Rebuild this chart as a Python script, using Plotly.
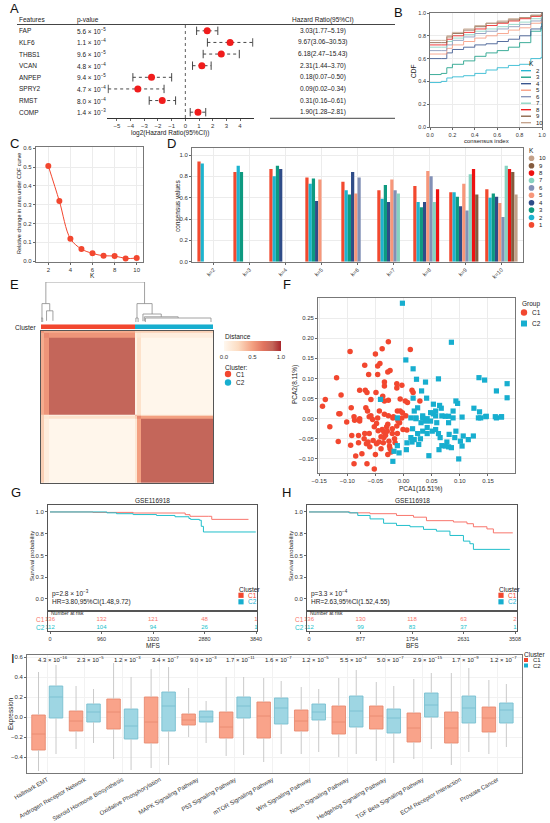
import numpy as np
import plotly.graph_objects as go

W, H = 550, 823
FONT = "Liberation Sans"
C1_COL, C2_COL = "#F2472F", "#17AECF"
KM1, KM2 = "#F8766D", "#21BFCB"
NPG = ["#F2492F", "#1DB4CF", "#0E9A80", "#2F4C88", "#F7977A",
       "#8290B6", "#86D2C0", "#EE1111", "#845B3E", "#C2A088"]

# A: univariate cox
features = ["FAP", "KLF6", "THBS1", "VCAN", "ANPEP", "SPRY2", "RMST", "COMP"]
pval_a = ["5.6 × 10<sup>−5</sup>", "1.1 × 10<sup>−4</sup>", "9.6 × 10<sup>−5</sup>", "4.8 × 10<sup>−4</sup>",
          "9.4 × 10<sup>−5</sup>", "4.7 × 10<sup>−4</sup>", "8.0 × 10<sup>−4</sup>", "1.4 × 10<sup>−3</sup>"]
hr = [3.03, 9.67, 6.18, 2.31, 0.18, 0.09, 0.31, 1.90]
hr_low = [1.77, 3.06, 2.47, 1.44, 0.07, 0.02, 0.16, 1.28]
hr_high = [5.19, 30.53, 15.43, 3.70, 0.50, 0.34, 0.61, 2.81]

# B: consensus CDF
cdf_index = [0, 0.1, 0.15, 0.2, 0.3, 0.4, 0.5, 0.6, 0.7, 0.8, 0.9, 0.99, 1.0]
cdf_k = [2, 3, 4, 5, 6, 7, 8, 9, 10]
cdf_curves = [
    [0.39, 0.40, 0.43, 0.44, 0.45, 0.47, 0.50, 0.52, 0.54, 0.55, 0.60, 0.61, 1.0],
    [0.46, 0.47, 0.52, 0.55, 0.58, 0.62, 0.65, 0.67, 0.70, 0.74, 0.84, 0.86, 1.0],
    [0.60, 0.60, 0.65, 0.68, 0.70, 0.72, 0.73, 0.75, 0.77, 0.80, 0.86, 0.88, 1.0],
    [0.64, 0.64, 0.69, 0.72, 0.75, 0.78, 0.80, 0.82, 0.85, 0.87, 0.91, 0.92, 1.0],
    [0.67, 0.67, 0.72, 0.76, 0.79, 0.82, 0.84, 0.86, 0.88, 0.90, 0.93, 0.94, 1.0],
    [0.70, 0.70, 0.75, 0.78, 0.81, 0.84, 0.86, 0.88, 0.90, 0.92, 0.95, 0.96, 1.0],
    [0.72, 0.72, 0.77, 0.80, 0.83, 0.86, 0.89, 0.91, 0.93, 0.95, 0.97, 0.98, 1.0],
    [0.74, 0.74, 0.79, 0.82, 0.85, 0.88, 0.91, 0.92, 0.94, 0.96, 0.98, 0.98, 1.0],
    [0.76, 0.76, 0.80, 0.83, 0.86, 0.89, 0.91, 0.93, 0.95, 0.96, 0.98, 0.99, 1.0],
]

# C: delta area
k_axis = [2, 3, 4, 5, 6, 7, 8, 9, 10]
delta_auc = [0.506, 0.319, 0.119, 0.064, 0.041, 0.028, 0.027, 0.014, 0.016]

# D: cluster consensus
k_groups = [2, 3, 4, 5, 6, 7, 8, 9, 10]
consensus = [
    [0.94, 0.92],
    [0.84, 0.90, 0.84],
    [0.87, 0.80, 0.90, 0.87],
    [0.79, 0.73, 0.78, 0.57, 0.77],
    [0.75, 0.67, 0.63, 0.84, 0.64, 0.79],
    [0.67, 0.59, 0.72, 0.56, 0.77, 0.67, 0.64],
    [0.71, 0.56, 0.51, 0.56, 0.85, 0.80, 0.56, 0.68],
    [0.65, 0.65, 0.61, 0.52, 0.73, 0.48, 0.82, 0.87, 0.63],
    [0.68, 0.60, 0.64, 0.61, 0.55, 0.42, 0.90, 0.87, 0.84, 0.63],
]

# E: consensus matrix (sample blocks)
seg_sizes = [4, 8, 124, 3, 5, 104]
seg_cluster = [1, 1, 1, 2, 2, 2]
seg_consensus = [
    [0.55, 0.45, 0.45, 0.30, 0.30, 0.30],
    [0.45, 0.60, 0.55, 0.10, 0.15, 0.10],
    [0.45, 0.55, 0.85, 0.05, 0.20, 0.02],
    [0.30, 0.10, 0.05, 0.40, 0.30, 0.15],
    [0.30, 0.15, 0.20, 0.30, 0.60, 0.50],
    [0.30, 0.10, 0.02, 0.15, 0.50, 0.85],
]
# (left, right, height, left child height, right child height)
dendro_links = [
    (7.0, 149.3, 1.0, 0.46, 0.46),
    (1.4, 12.6, 0.46, 0.10, 0.28),
    (8.0, 17.2, 0.28, 0.03, 0.03),
    (0.4, 2.4, 0.10, 0.0, 0.0),
    (138.4, 160.2, 0.46, 0.10, 0.20),
    (136.8, 140.0, 0.10, 0.0, 0.0),
    (147.0, 173.4, 0.20, 0.02, 0.13),
    (149.0, 197.8, 0.13, 0.02, 0.10),
    (150.5, 245.1, 0.10, 0.0, 0.0),
]

# F: PCA
pca_c1_x = [-0.144, -0.139, -0.119, -0.111, -0.095, -0.115, -0.093, -0.087, -0.078, -0.069, -0.068, -0.065,
            -0.062, -0.058, -0.067, -0.064, -0.078, -0.061, -0.050, -0.046, -0.042, -0.038, -0.046, -0.027,
            -0.028, -0.024, -0.034, -0.034, -0.037, -0.034, -0.049, -0.043, -0.034, -0.027, -0.027, -0.012,
            -0.003, -0.012, -0.006, 0.003, 0.007, -0.011, -0.006, -0.002, 0.004, 0.012, 0.015, 0.017, 0.029,
            -0.019, -0.046, -0.055, -0.131, -0.116, -0.113, -0.094, -0.092, -0.085, -0.088, -0.080, -0.074,
            -0.078, -0.069, -0.066, -0.065, -0.063, -0.061, -0.058, -0.054, -0.052, -0.050, -0.048, -0.048,
            -0.044, -0.038, -0.035, -0.035, -0.032, -0.029, -0.028, -0.026, -0.025, -0.024, -0.020, -0.016,
            -0.015, -0.012, -0.011, -0.007, -0.003, -0.001, -0.022, -0.028, -0.040, -0.018, 0.006, -0.088,
            -0.101, -0.040, -0.030, -0.045, -0.020, -0.036, -0.010, -0.052, -0.060, -0.070, -0.080]
pca_c1_y = [0.031, 0.048, 0.102, 0.059, 0.167, 0.012, 0.027, -0.004, 0.071, 0.133, 0.071, 0.065,
            0.110, 0.048, 0.027, 0.019, 0.000, 0.005, 0.161, 0.131, 0.137, 0.174, 0.110, 0.191,
            0.116, 0.120, 0.091, 0.081, 0.056, 0.044, 0.065, 0.019, 0.011, 0.007, 0.046, 0.087,
            0.083, 0.076, 0.049, 0.044, 0.040, 0.019, 0.019, 0.015, 0.007, 0.172, 0.071, 0.065, 0.044,
            0.002, 0.002, -0.002, -0.020, -0.057, 0.012, -0.066, -0.042, -0.093, -0.112, -0.042, -0.087,
            -0.006, -0.037, -0.062, -0.112, -0.058, -0.037, 0.007, -0.054, -0.125, -0.089, -0.012, -0.062,
            -0.058, -0.027, -0.033, -0.047, -0.041, -0.031, -0.014, -0.056, -0.068, -0.075, -0.037, -0.050,
            -0.060, -0.018, -0.037, -0.010, 0.002, -0.027, -0.083, -0.089, -0.075, 0.005, -0.028, 0.005,
            -0.008, -0.045, -0.020, -0.030, -0.025, -0.060, -0.005, -0.020, -0.070, -0.050, -0.060]
pca_c2_x = [-0.002, 0.085, 0.004, 0.017, 0.023, 0.062, 0.039, 0.032, -0.041, 0.017, 0.041, 0.025,
            0.053, 0.064, 0.067, 0.093, 0.096, 0.053, 0.088, 0.074, 0.080, 0.104, 0.134, 0.144, 0.125,
            0.135, 0.137, 0.147, 0.165, 0.184, 0.184, 0.165, 0.174, -0.011, 0.013, 0.022, 0.034, 0.042,
            0.048, 0.019, 0.022, 0.034, 0.039, 0.031, 0.042, 0.034, 0.025, 0.016, 0.013, 0.015, 0.019,
            0.005, -0.008, -0.017, -0.019, -0.011, 0.006, 0.027, 0.030, 0.042, 0.045, 0.051, 0.057, 0.059,
            0.062, 0.065, 0.063, 0.068, 0.074, 0.080, 0.085, 0.077, 0.081, 0.080, 0.088, 0.091, 0.093,
            0.098, 0.101, 0.104, 0.106, 0.115, 0.124, 0.133, 0.146, 0.163, 0.174, 0.057, 0.068, 0.048, 0.057]
pca_c2_y = [0.287, 0.190, 0.146, 0.124, 0.098, 0.099, 0.091, 0.069, 0.048, 0.051, 0.051, 0.027,
            0.036, 0.033, 0.026, 0.044, 0.038, 0.012, 0.019, 0.006, 0.006, 0.004, 0.102, 0.096, 0.026,
            0.017, 0.002, 0.006, 0.069, 0.087, 0.052, 0.002, 0.004, 0.002, 0.002, 0.000, 0.002, 0.000,
            -0.006, 0.019, 0.002, 0.007, -0.006, -0.010, -0.022, -0.031, -0.037, -0.025, -0.047, -0.058, -0.052,
            -0.077, -0.085, -0.081, -0.106, -0.067, -0.060, -0.064, -0.050, -0.037, -0.092, -0.031, -0.027, -0.010,
            -0.037, -0.047, -0.077, -0.067, -0.068, -0.070, -0.072, -0.058, -0.039, -0.010, 0.002, -0.047, -0.031,
            -0.100, -0.056, -0.068, -0.043, -0.052, -0.043, 0.002, 0.005, 0.005, 0.005, 0.007, 0.007, 0.015, 0.019]

# G: MFS survival
g_c1_t = [0, 800, 1550, 2520, 2610, 2950, 3015, 3700]
g_c1_s = [1.0, 0.995, 0.988, 0.969, 0.95, 0.95, 0.915, 0.915]
g_c2_t = [0, 1060, 1240, 1550, 1985, 2330, 2590, 2620, 2785, 2820, 2860, 3836]
g_c2_s = [1.0, 0.99, 0.98, 0.97, 0.96, 0.945, 0.925, 0.915, 0.905, 0.835, 0.77, 0.77]
g_risk_t = [0, 960, 1920, 2880, 3840]
g_risk_c1 = [136, 132, 121, 48, 1]
g_risk_c2 = [112, 104, 94, 26, 1]

# H: BFS survival
h_c1_t = [0, 700, 1040, 1490, 1780, 2000, 2460, 2690, 2800, 3030, 3140, 3470]
h_c1_s = [1.0, 0.99, 0.98, 0.96, 0.94, 0.90, 0.885, 0.865, 0.83, 0.805, 0.76, 0.76]
h_c2_t = [0, 680, 830, 1040, 1270, 1490, 1720, 1950, 2170, 2400, 2630, 2740, 2800, 3420]
h_c2_s = [1.0, 0.99, 0.96, 0.92, 0.87, 0.845, 0.83, 0.80, 0.78, 0.73, 0.665, 0.635, 0.57, 0.57]
h_risk_t = [0, 877, 1754, 2631, 3508]
h_risk_c1 = [136, 130, 118, 63, 2]
h_risk_c2 = [112, 99, 83, 37, 1]

# I: pathway scores
pathways = ["Hallmark EMT", "Androgen Receptor Network", "Steroid Hormone Biosynthesis",
            "Oxidative Phosphorylation", "MAPK Signaling Pathway", "P53 Signaling Pathway",
            "mTOR Signaling Pathway", "Wnt Signaling Pathway", "Notch Signaling Pathway",
            "Hedgehog Signaling Pathway", "TGF Beta Signaling Pathway", "ECM Receptor Interaction",
            "Prostate Cancer"]
pval_i = ["4.3 × 10<sup>−16</sup>", "2.3 × 10<sup>−5</sup>", "1.2 × 10<sup>−3</sup>", "3.4 × 10<sup>−7</sup>",
          "9.0 × 10<sup>−3</sup>", "1.7 × 10<sup>−11</sup>", "1.6 × 10<sup>−7</sup>", "1.2 × 10<sup>−5</sup>",
          "5.5 × 10<sup>−4</sup>", "5.0 × 10<sup>−7</sup>", "2.9 × 10<sup>−15</sup>", "1.7 × 10<sup>−9</sup>",
          "1.2 × 10<sup>−7</sup>"]
c1_low = [-0.54, -0.32, -0.42, -0.51, -0.20, -0.39, -0.45, -0.37, -0.40, -0.44, -0.42, -0.48, -0.37]
c1_q1 = [-0.33, -0.14, -0.12, -0.26, -0.08, -0.21, -0.21, -0.14, -0.17, -0.12, -0.25, -0.26, -0.15]
c1_med = [-0.17, -0.04, 0.05, -0.05, -0.03, -0.10, 0.01, -0.04, -0.05, 0.01, -0.11, -0.11, -0.01]
c1_q3 = [0.02, 0.06, 0.18, 0.20, 0.03, 0.05, 0.15, 0.07, 0.11, 0.11, 0.04, 0.05, 0.10]
c1_high = [0.45, 0.31, 0.54, 0.48, 0.29, 0.40, 0.39, 0.30, 0.39, 0.35, 0.38, 0.44, 0.37]
c2_low = [-0.37, -0.26, -0.53, -0.48, -0.26, -0.38, -0.37, -0.35, -0.37, -0.46, -0.32, -0.35, -0.30]
c2_q1 = [-0.01, -0.05, -0.22, -0.14, -0.05, -0.01, -0.07, -0.03, -0.10, -0.16, 0.00, -0.06, -0.06]
c2_med = [0.20, 0.05, -0.09, 0.11, 0.00, 0.11, 0.09, 0.05, 0.06, -0.01, 0.12, 0.09, 0.07]
c2_q3 = [0.31, 0.13, 0.08, 0.25, 0.06, 0.20, 0.19, 0.13, 0.21, 0.08, 0.24, 0.21, 0.14]
c2_high = [0.52, 0.28, 0.40, 0.50, 0.16, 0.40, 0.36, 0.28, 0.47, 0.31, 0.44, 0.49, 0.33]


traces, shapes, ann = [], [], []
layout = dict(width=W, height=H, autosize=False, margin=dict(l=0, r=0, t=0, b=0),
              paper_bgcolor="white", plot_bgcolor="white", showlegend=False,
              font=dict(family=FONT, size=6, color="#222"),
              barmode="group", bargap=0.1, bargroupgap=0, boxmode="overlay")


def note(px, py, text, size=6, anchor="left", color="#222", angle=0):
    ann.append(dict(x=px / W, y=1 - py / H, xref="paper", yref="paper", text=text, showarrow=False,
                    xanchor=anchor, yanchor="middle", textangle=angle,
                    font=dict(family=FONT, size=size, color=color)))


def hline(x0, x1, py, width=0.8, color="#444"):
    shapes.append(dict(type="line", xref="paper", yref="paper", x0=x0 / W, x1=x1 / W,
                       y0=1 - py / H, y1=1 - py / H, line=dict(color=color, width=width)))


def key_line(px, py, color, label):
    hline(px - 5, px + 5, py, width=1.3, color=color)
    note(px + 8, py, label)


def key_mark(px, py, color, label, r=3.0, kind="circle", size=6, tcolor="#222"):
    shapes.append(dict(type=kind, xref="paper", yref="paper", x0=(px - r) / W, x1=(px + r) / W,
                       y0=1 - (py + r) / H, y1=1 - (py - r) / H, fillcolor=color, line=dict(width=0)))
    note(px + r + 2.5, py, label, size=size, color=tcolor)


def frame(**kw):
    d = dict(showline=True, mirror=True, linecolor="#777", linewidth=0.8, ticks="outside", ticklen=2,
             tickwidth=0.6, tickcolor="#666", tickfont=dict(size=6, color="#333"), showgrid=True,
             gridcolor="#ECECEC", gridwidth=0.6, zeroline=False, automargin=False)
    d.update(kw)
    return d


def axes(n, xd, yd, xkw, ykw):
    xk, yk = ("xaxis", "yaxis") if n == 1 else (f"xaxis{n}", f"yaxis{n}")
    xr, yr = ("x", "y") if n == 1 else (f"x{n}", f"y{n}")
    layout[xk] = dict(domain=[xd[0] / W, xd[1] / W], anchor=yr, **xkw)
    layout[yk] = dict(domain=[1 - yd[1] / H, 1 - yd[0] / H], anchor=xr, **ykw)
    return xr, yr


# ---------- A ----------
xa, ya = axes(1, (107.4, 253.7), (25, 118),
              frame(range=[-5.7, 5.0], tickvals=list(range(-5, 5)), mirror=False, showgrid=False,
                    linecolor="#333"),
              dict(range=[0.5, 8.5], visible=False))
rows = list(range(len(features), 0, -1))
lg, lg_lo, lg_hi = np.log2(hr), np.log2(hr_low), np.log2(hr_high)
ex, ey = [], []
for r, a, b in zip(rows, lg_lo, lg_hi):
    ex += [a, b, None]
    ey += [r, r, None]
traces.append(go.Scatter(x=ex, y=ey, mode="lines", line=dict(color="#333", width=0.9, dash="dot"),
                         xaxis=xa, yaxis=ya))
traces.append(go.Scatter(x=list(lg_lo) + list(lg_hi), y=rows + rows, mode="markers",
                         marker=dict(symbol="line-ns", size=6, line=dict(color="#333", width=0.9)),
                         xaxis=xa, yaxis=ya))
traces.append(go.Scatter(x=lg, y=rows, mode="markers", marker=dict(color="#F01C1C", size=7),
                         xaxis=xa, yaxis=ya))
shapes.append(dict(type="line", xref=xa, yref="paper", x0=0, x1=0, y0=1 - 118 / H, y1=1 - 25 / H,
                   line=dict(color="#333", width=0.8, dash="dot")))
for r, f, p, h_, lo, hi in zip(rows, features, pval_a, hr, hr_low, hr_high):
    for px, txt, anc in [(17, f, "left"), (75, p, "left"), (323, f"{h_:.2f}({lo:.2f}–{hi:.2f})", "center")]:
        ann.append(dict(x=px / W, xref="paper", y=r, yref=ya, text=txt, showarrow=False, xanchor=anc,
                        font=dict(size=6.5, color="#222")))
note(17, 19.5, "Features", 6.5)
note(75, 19.5, "p-value", 6.5)
note(323, 19.5, "Hazard Ratio(95%CI)", 6.5, anchor="center")
hline(17, 395, 24.5, width=1.2)
hline(270, 395, 118.3, width=1.0)
note(170, 133, "log2(Hazard Ratio(95%CI))", 6.5, anchor="center")

# ---------- B ----------
xb, yb = axes(2, (430, 542), (13, 127),
              frame(range=[0, 1], dtick=0.2, tickformat=".1f", tickfont=dict(size=5.5, color="#333")),
              frame(range=[0, 1], dtick=0.2, tickformat=".1f", tickfont=dict(size=5.5, color="#333")))
for k, vals in zip(cdf_k, cdf_curves):
    traces.append(go.Scatter(x=cdf_index, y=vals, mode="lines", opacity=0.8,
                             line=dict(color=NPG[k - 1], width=1, shape="hv"), xaxis=xb, yaxis=yb))
note(413, 72, "CDF", 6.5, anchor="center", angle=-90)
note(486, 140.5, "consensus index", 6, anchor="center")
note(527, 63, "K", 6.5)
for i, k in enumerate(cdf_k):
    key_line(526, 70.7 + 6.5 * i, NPG[k - 1], str(k))

# ---------- C ----------
xc, yc = axes(3, (35.7, 143), (147.3, 262),
              frame(range=[0.86, 10.57], tickvals=[2, 4, 6, 8, 10]),
              frame(range=[-0.005, 0.605], dtick=0.1, tickformat=".1f"))
traces.append(go.Scatter(x=k_axis, y=delta_auc, mode="lines+markers",
                         line=dict(color=C1_COL, width=1, shape="spline"),
                         marker=dict(color=C1_COL, size=6), xaxis=xc, yaxis=yc))
note(19, 204, "Relative change in area under CDF curve", 5.5, anchor="center", angle=-90)
note(92, 275, "K", 6.5, anchor="center")

# ---------- D ----------
k_labels = [f"k={k}" for k in k_groups]
xd_, yd_ = axes(4, (192, 523), (148.3, 261.7),
                frame(type="category", categoryorder="array", categoryarray=k_labels,
                      range=[-0.6, 8.6], tickangle=-45, tickfont=dict(size=5.5, color="#333")),
                frame(range=[0, 1.063], dtick=0.2, tickformat=".1f"))
for c in range(1, 11):
    ks = [k for k in k_groups if k >= max(c, 2)]
    traces.append(go.Bar(x=[f"k={k}" for k in ks], y=[consensus[k - 2][c - 1] for k in ks],
                         marker=dict(color=NPG[c - 1], line=dict(width=0)), offsetgroup=str(c),
                         xaxis=xd_, yaxis=yd_))
note(177, 206, "consensus values", 6.5, anchor="center", angle=-90)
note(527, 150, "K", 6.5)
for i, c in enumerate(range(10, 0, -1)):
    key_mark(531.5, 158.3 + 7.4 * i, NPG[c - 1], str(c), r=2.8)

# ---------- E ----------
edges = np.concatenate([[0], np.cumsum(seg_sizes)])
n_tot = float(edges[-1])
xe1, ye1 = axes(5, (41, 213), (282, 322), dict(range=[0, n_tot], visible=False),
                dict(range=[0, 1.0], visible=False))
dxs, dys = [], []
for xl, xr_, h_, hl, hr_ in dendro_links:
    dxs += [xl, xl, xr_, xr_, None]
    dys += [hl, h_, h_, hr_, None]
traces.append(go.Scatter(x=dxs, y=dys, mode="lines", line=dict(color="#8A8A8A", width=0.8),
                         xaxis=xe1, yaxis=ye1))
xe2, ye2 = axes(6, (41, 213), (324.3, 329), dict(range=[0, n_tot], visible=False),
                dict(range=[0, 1], visible=False))
traces.append(go.Heatmap(x=edges, y=[0, 1], z=[seg_cluster], zmin=1, zmax=2, showscale=False,
                         colorscale=[[0, C1_COL], [0.5, C1_COL], [0.5, C2_COL], [1, C2_COL]],
                         xaxis=xe2, yaxis=ye2))
xe3, ye3 = axes(7, (41, 213), (330.7, 483),
                dict(range=[0, n_tot], showline=True, mirror=True, linecolor="#555", linewidth=0.7,
                     showticklabels=False, ticks="", showgrid=False, zeroline=False),
                dict(range=[n_tot, 0], showline=True, mirror=True, linecolor="#555", linewidth=0.7,
                     showticklabels=False, ticks="", showgrid=False, zeroline=False))
traces.append(go.Heatmap(
    x=edges, y=edges, z=seg_consensus, zmin=0, zmax=1,
    colorscale=[[0, "#FFF8EF"], [0.25, "#FCDCC2"], [0.5, "#F3A081"], [0.7, "#E0735F"],
                [0.85, "#C4665A"], [1, "#A8262C"]],
    colorbar=dict(orientation="h", x=252.5 / W, xanchor="center", y=1 - 341 / H, yanchor="top",
                  lenmode="pixels", len=57, thickness=10, xpad=0, ypad=0, outlinewidth=0,
                  tickvals=[0, 0.5, 1], ticktext=["0.0", "0.5", "1.0"], ticks="",
                  tickfont=dict(size=6, color="#333")),
    xaxis=xe3, yaxis=ye3))
note(223, 336, "Distance", 6.5)
note(38, 327, "Cluster", 6.5, anchor="right")
note(223, 367, "Cluster:", 6.5)
key_mark(228, 374, C1_COL, "C1", r=3.2, size=6.5)
key_mark(228, 382.5, C2_COL, "C2", r=3.2, size=6.5)

# ---------- F ----------
xf, yf = axes(8, (318, 515), (298, 473),
              frame(range=[-0.152, 0.198], tickvals=[-0.15, -0.1, -0.05, 0, 0.05, 0.1, 0.15], tickformat=".2f"),
              frame(range=[-0.135, 0.30], tickvals=[-0.1, -0.05, 0, 0.05, 0.1, 0.15, 0.2, 0.25],
                    tickformat=".2f"))
traces.append(go.Scatter(x=pca_c1_x, y=pca_c1_y, mode="markers",
                         marker=dict(color=C1_COL, size=5.5, symbol="circle"), xaxis=xf, yaxis=yf))
traces.append(go.Scatter(x=pca_c2_x, y=pca_c2_y, mode="markers",
                         marker=dict(color=C2_COL, size=5.2, symbol="square"), xaxis=xf, yaxis=yf))
note(295, 385, "PCA2(8.11%)", 6.5, anchor="center", angle=-90)
note(420, 489, "PCA1(16.51%)", 6.5, anchor="center")
note(520, 304, "Group", 6.5)
key_mark(524, 312.5, C1_COL, "C1", r=3.2, size=6.5)
key_mark(524, 323.5, C2_COL, "C2", r=3.0, kind="rect", size=6.5)


# ---------- G / H ----------
def km_panel(n, xdom, c1_t, c1_s, c2_t, c2_s, risk_t, r1, r2, p_txt, hr_txt, xlabel):
    x0, x1 = xdom
    unit = 206.0 / risk_t[-1]          # px per day
    lo = -2.0 / unit
    rng = [lo, lo + (x1 - x0) / unit]
    xs, ys = axes(n, xdom, (505, 611),
                  frame(range=rng, showticklabels=False, ticks="", showgrid=False, linecolor="#555"),
                  frame(range=[-0.138, 1.08], tickvals=[0, 0.25, 0.5, 0.75, 1],
                        ticktext=["0.0", "0.3", "0.5", "0.8", "1.0"], showgrid=False, linecolor="#555"))
    traces.append(go.Scatter(x=c1_t, y=c1_s, mode="lines", line=dict(color=KM1, width=1, shape="hv"),
                             xaxis=xs, yaxis=ys))
    traces.append(go.Scatter(x=c2_t, y=c2_s, mode="lines", line=dict(color=KM2, width=1, shape="hv"),
                             xaxis=xs, yaxis=ys))
    xr_, yr_ = axes(n + 1, xdom, (611, 631),
                    frame(range=rng, tickvals=risk_t, showgrid=False, linecolor="#555",
                          tickfont=dict(size=5.5, color="#333")),
                    dict(range=[0, 3], showline=True, mirror=True, linecolor="#555", linewidth=0.8,
                         showticklabels=False, ticks="", showgrid=False, zeroline=False))
    for yv, vals, col in [(1.7, r1, KM1), (0.55, r2, KM2)]:
        traces.append(go.Scatter(x=risk_t, y=[yv] * len(vals), mode="text", text=[str(v) for v in vals],
                                 textfont=dict(color=col, size=6), cliponaxis=False, xaxis=xr_, yaxis=yr_))
    note(x0 + 1, 613.2, "Number at risk", 5)
    note(x0 - 1, 619.5, "C1", 6.5, anchor="right", color=KM1)
    note(x0 - 1, 627.3, "C2", 6.5, anchor="right", color=KM2)
    note(x0 + 1.5, 593, p_txt, 6.5)
    note(x0 + 1.5, 602, hr_txt, 6.5)
    note((x0 + x1) / 2, 500.5, "GSE116918", 6.5, anchor="center")
    note(x0 - 16, 556, "Survival probability", 6, anchor="center", angle=-90)
    note((x0 + x1) / 2, 645, xlabel, 6.5, anchor="center")
    note(x1 - 20, 589, "Cluster", 6.5)
    key_mark(x1 - 16, 595.3, C1_COL, "C1", r=2.6, kind="rect", size=6.5, tcolor=C1_COL)
    key_mark(x1 - 16, 601.8, C2_COL, "C2", r=2.6, kind="rect", size=6.5, tcolor=C2_COL)


km_panel(9, (48, 257), g_c1_t, g_c1_s, g_c2_t, g_c2_s, g_risk_t, g_risk_c1, g_risk_c2,
         "p=2.8 × 10<sup>−3</sup>", "HR=3.80,95%CI(1.48,9.72)", "MFS")
km_panel(11, (307, 517), h_c1_t, h_c1_s, h_c2_t, h_c2_s, h_risk_t, h_risk_c1, h_risk_c2,
         "p=3.3 × 10<sup>−4</sup>", "HR=2.63,95%CI(1.52,4.55)", "BFS")

# ---------- I ----------
xi, yi = axes(13, (27, 522), (655, 773),
              frame(range=[-0.54, 12.65], tickvals=list(range(len(pathways))), ticktext=pathways,
                    tickangle=-30, ticks="", tickfont=dict(size=6, color="#333"), gridcolor="#F2F2F2"),
              frame(range=[-0.56, 0.62], dtick=0.2, tickformat=".1f", gridcolor="#F2F2F2"))
for off, lo_, q1_, md_, q3_, hi_, fill, edge in [
        (-0.233, c1_low, c1_q1, c1_med, c1_q3, c1_high, "#F9A38A", "#E88A70"),
        (0.233, c2_low, c2_q1, c2_med, c2_q3, c2_high, "#9ED6E3", "#78BFD0")]:
    pos = [i + off for i in range(len(pathways))]
    wx, wy = [], []
    for p_, a, b, c, d in zip(pos, lo_, q1_, q3_, hi_):
        wx += [p_, p_, None, p_, p_, None]
        wy += [a, b, None, c, d, None]
    traces.append(go.Scatter(x=wx, y=wy, mode="lines", line=dict(color="#CACACA", width=1),
                             xaxis=xi, yaxis=yi))
    traces.append(go.Box(x=pos, q1=q1_, median=md_, q3=q3_, lowerfence=q1_, upperfence=q3_, width=0.36,
                         fillcolor=fill, line=dict(color=edge, width=0.9), whiskerwidth=0,
                         xaxis=xi, yaxis=yi))
for i, p in enumerate(pval_i):
    ann.append(dict(x=i + 0.15, xref=xi, y=1 - 658.5 / H, yref="paper", text=p, showarrow=False,
                    xanchor="center", yanchor="middle", font=dict(size=6, color="#222")))
note(11, 714, "Expression", 6.5, anchor="center", angle=-90)
note(522, 654, "Cluster", 6.5)
key_mark(526, 660, C1_COL, "C1", r=2.0, kind="rect", size=6)
key_mark(526, 665.5, C2_COL, "C2", r=2.0, kind="rect", size=6)

# panel letters
for letter, px, py in [("A", 8, 9), ("B", 392, 12), ("C", 8, 143), ("D", 165, 143), ("E", 8, 285),
                       ("F", 281, 285), ("G", 9, 493), ("H", 280, 493), ("I", 9, 658)]:
    note(px, py, letter, 13, color="#111")

layout["shapes"] = shapes
layout["annotations"] = ann
fig = go.Figure(data=traces, layout=layout)
# page body has an 8px default margin; drop it so the 550x823 figure fills the window
fig.write_html("out.html", config={"displayModeBar": False},
               post_script="document.body.style.margin='0';document.body.style.overflow='hidden';")
